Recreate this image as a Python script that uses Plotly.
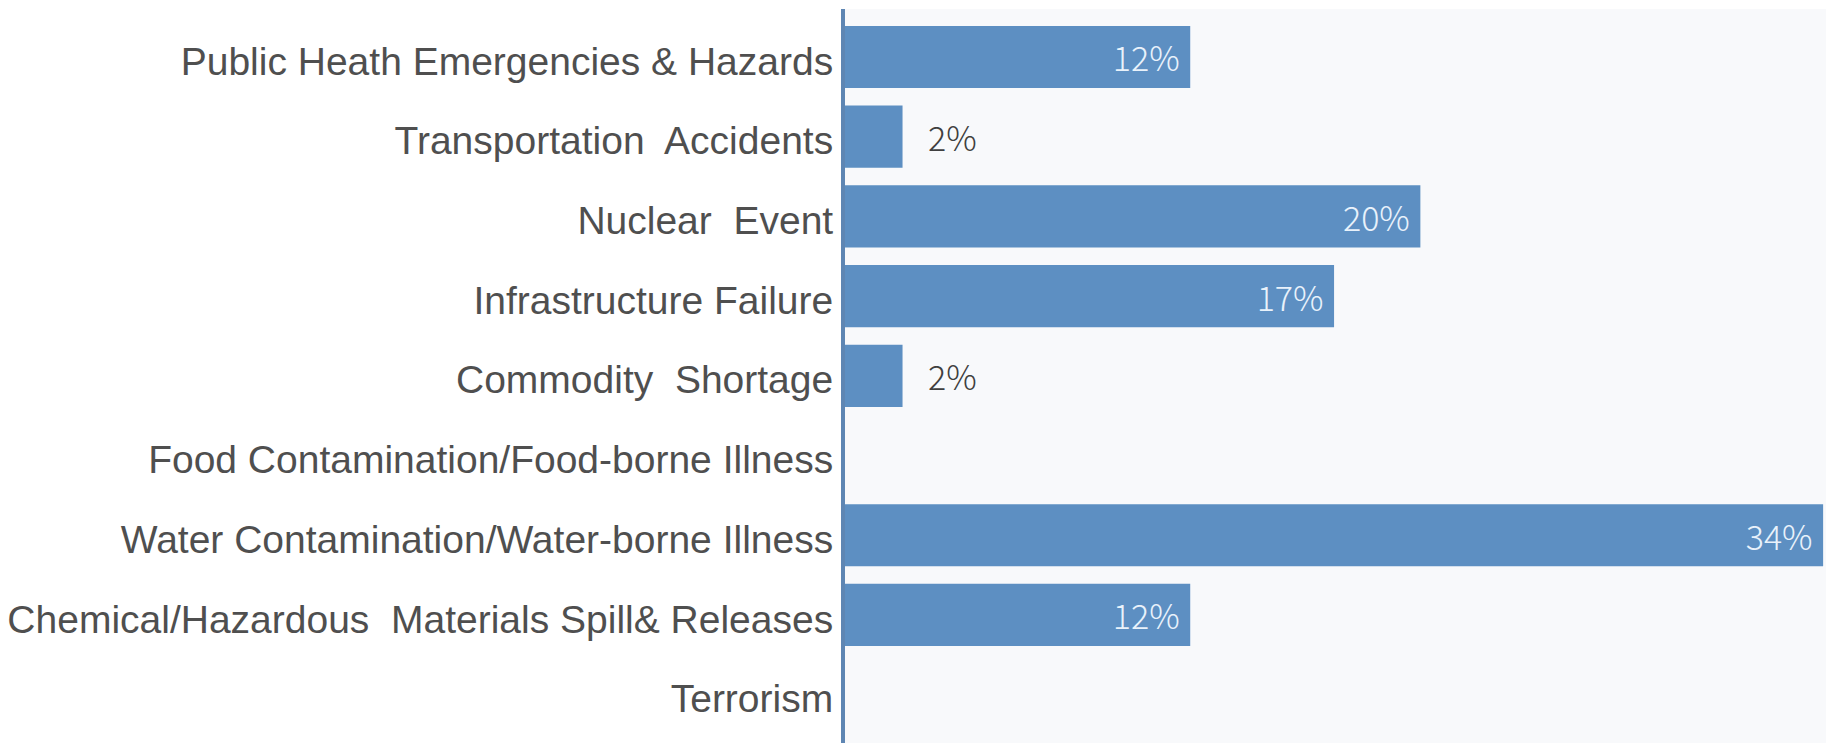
import plotly.graph_objects as go

# Hazard categories, top to bottom
categories = [
    "Public Heath Emergencies & Hazards",
    "Transportation  Accidents",
    "Nuclear  Event",
    "Infrastructure Failure",
    "Commodity  Shortage",
    "Food Contamination/Food-borne Illness",
    "Water Contamination/Water-borne Illness",
    "Chemical/Hazardous  Materials Spill& Releases",
    "Terrorism",
]

# Share of responses per category (%)
shares = [12, 2, 20, 17, 2, 0, 34, 12, 0]

# Small bars carry their label outside, long bars inside at the end
label_pos = ["inside" if v >= 5 else "outside" for v in shares]
labels = []
for v, pos in zip(shares, label_pos):
    if v <= 0:
        labels.append("")
    elif pos == "inside":
        labels.append(f"{v}%&nbsp;")
    else:
        labels.append(f"&nbsp;&nbsp;&nbsp;{v}%")

bar_color = "#5D8FC2"

fig = go.Figure(
    go.Bar(
        x=shares,
        y=categories,
        orientation="h",
        marker=dict(color=bar_color, line=dict(width=0)),
        text=labels,
        textposition=label_pos,
        insidetextanchor="end",
        insidetextfont=dict(family="Noto Sans CJK SC", size=34, color="#E9F2FB", weight=300),
        outsidetextfont=dict(family="Noto Sans CJK SC", size=34, color="#3F3F3F", weight=300),
        cliponaxis=False,
        hoverinfo="skip",
    )
)

fig.update_layout(
    width=1831,
    height=743,
    margin=dict(l=845, r=5, t=9, b=0),
    paper_bgcolor="white",
    plot_bgcolor="#F8F9FB",
    bargap=0.22,
    showlegend=False,
    font=dict(family="Liberation Sans, Arial, sans-serif"),
)

fig.update_xaxes(
    range=[0, 34.1],
    showgrid=False,
    zeroline=False,
    showticklabels=False,
    showline=False,
)

fig.update_yaxes(
    type="category",
    categoryorder="array",
    categoryarray=categories,
    range=[8.607, -0.602],
    showgrid=False,
    zeroline=False,
    showline=True,
    linecolor="#5E86B3",
    linewidth=4,
    ticks="",
    ticklabelstandoff=0,
    ticklabelshift=-4,
    tickfont=dict(family="Liberation Sans, Arial, sans-serif", size=39, color="#4F4F4F"),
)

fig.write_html("out.html")
